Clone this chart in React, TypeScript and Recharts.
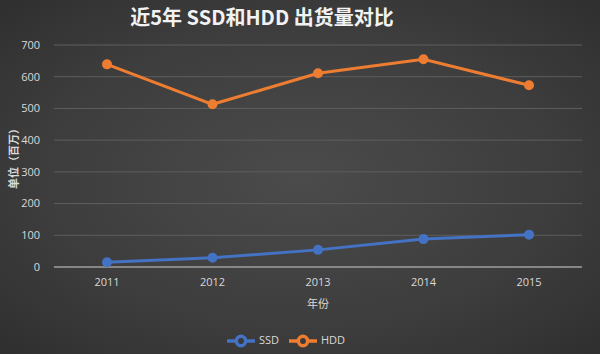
import React from 'react'
import { LineChart, Line, XAxis, YAxis, CartesianGrid, Legend, ReferenceLine } from 'recharts';

const years = ['2011', '2012', '2013', '2014', '2015'];
const ssd = [15, 29, 54, 88, 102];
const hdd = [639, 513, 611, 655, 573];
const yTicks = [0, 100, 200, 300, 400, 500, 600, 700];
const seriesOrder = ['SSD', 'HDD'];

const data = years.map((y, i) => ({ year: y, SSD: ssd[i], HDD: hdd[i] }));

const App = () => {
  return (
    <div
      style={{
        position: 'absolute',
        left: 0,
        top: 0,
        width: 600,
        height: 354,
        background: 'radial-gradient(ellipse at 50% 50%, #4b4b4b 0%, #3d3d3d 60%, #2f2f2f 100%)',
        fontFamily: '"Open Sans", "Noto Sans CJK SC", sans-serif',
      }}
    >
      <div
        style={{
          position: 'absolute',
          left: 0,
          width: 524,
          top: 2,
          textAlign: 'center',
          color: '#f2f2f2',
          fontSize: 20,
          fontWeight: 'bold',
          fontFamily: '"Noto Sans CJK SC", sans-serif',
        }}
      >
        近5年 SSD和HDD 出货量对比
      </div>
      <LineChart
        width={600}
        height={354}
        data={data}
        margin={{ top: 45, right: 18, left: 0, bottom: 0 }}
      >
        <CartesianGrid stroke="#5e5e5e" vertical={false} />
        <XAxis
          dataKey="year"
          axisLine={false}
          tickLine={false}
          tick={{ fill: '#d9d9d9', fontSize: 11 }}
          tickMargin={5}
          height={60}
          padding={{ left: 53, right: 53 }}
          label={{ value: '年份', position: 'insideBottom', offset: 19, fill: '#d9d9d9', fontSize: 11, fontFamily: '"Noto Sans CJK SC"' }}
        />
        <YAxis
          domain={[0, 700]}
          ticks={yTicks}
          axisLine={false}
          tickLine={false}
          tickSize={0}
          tickMargin={14}
          width={54}
          tick={{ fill: '#d9d9d9', fontSize: 11 }}
          label={{ value: '单位（百万）', angle: -90, position: 'insideLeft', offset: 14, fill: '#d9d9d9', fontSize: 11, fontWeight: 'bold', fontFamily: '"Noto Sans CJK SC"', style: { textAnchor: 'middle' } }}
        />
        <ReferenceLine y={0} stroke="#9a9a9a" strokeWidth={1.5} />
        <Legend
          verticalAlign="bottom"
          height={27}
          iconType="line"
          iconSize={28}
          itemSorter={(item) => seriesOrder.indexOf(item.value)}
          wrapperStyle={{ fontSize: 11, color: '#d9d9d9' }}
          formatter={(v) => <span style={{ color: '#d9d9d9' }}>{v}</span>}
        />
        <Line dataKey="SSD" stroke="#4472c4" strokeWidth={3} dot={{ r: 3.5, fill: '#4472c4', stroke: '#4472c4' }} isAnimationActive={false} />
        <Line dataKey="HDD" stroke="#ed7d31" strokeWidth={3} dot={{ r: 3.5, fill: '#ed7d31', stroke: '#ed7d31' }} isAnimationActive={false} />
      </LineChart>
    </div>
  );
}

export default App
